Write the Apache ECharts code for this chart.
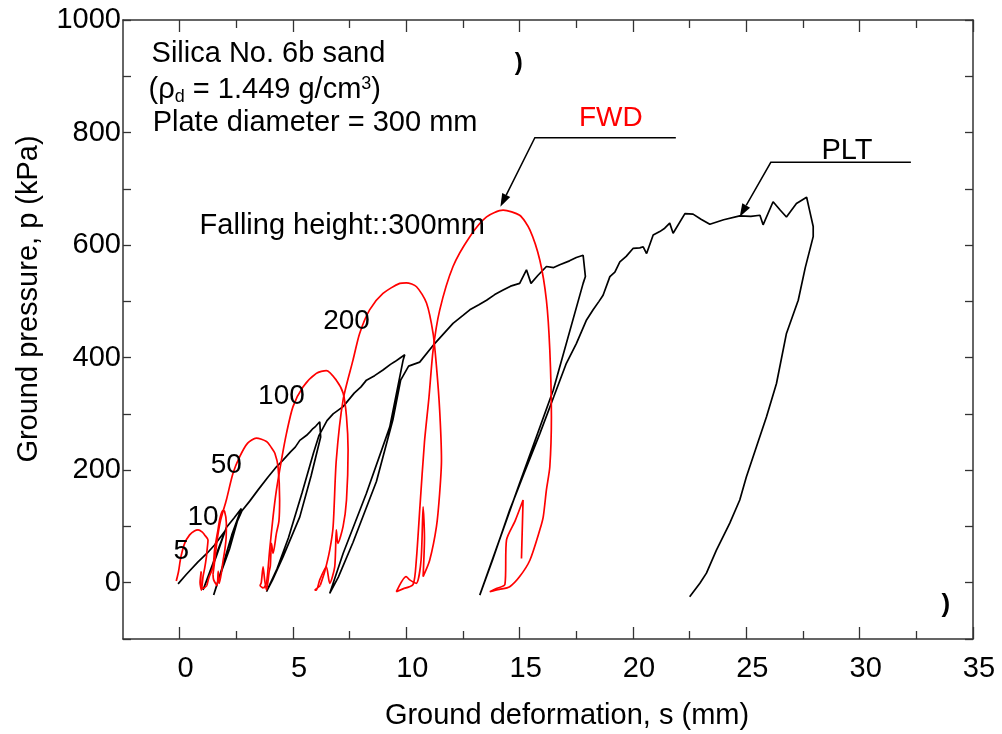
<!DOCTYPE html>
<html><head><meta charset="utf-8">
<script src="https://cdn.jsdelivr.net/npm/echarts@6/dist/echarts.min.js"></script>
<style>html,body{margin:0;padding:0;background:#fff}#c{width:1002px;height:734px}</style>
</head><body><div id="c"></div>
<script>
// ---------- tick values ----------
const xMajorTicks = [0, 5, 10, 15, 20, 25, 30, 35];
const xMinorTicks = [2.5, 7.5, 12.5, 17.5, 22.5, 27.5, 32.5];
const yLabelTicks = [0, 200, 400, 600, 800, 1000];

// ---------- PLT (plate loading test), s (mm), p (kPa) ----------
const pltCurve = [
  [-0.07,-2],[0.3,15],[0.81,37],[1.2,52],[1.54,67],[2.0,92],
  [1.03,-13],[1.6,45],[2.06,98],[2.4,115],[2.72,132],
  [2.3,85],[1.9,30],[1.5,-22],
  [1.8,15],[2.2,60],[2.55,110],[2.75,128],
  [3.09,145],[3.46,165],[3.9,188],[4.27,206],[4.56,218],[4.9,233],[5.1,241],[5.3,253],[5.6,262],[5.75,268],[5.88,274],[6.0,278],[6.18,286],
  [6.22,259],[5.8,190],[5.3,117],[4.56,46],[4.1,5],[3.83,-16],
  [4.3,25],[4.8,80],[5.4,160],[5.9,230],[6.15,262],[6.5,288],[6.77,300],[7.21,313],[7.7,337],[8.0,348],[8.24,360],[8.6,368],[8.97,378],[9.3,388],[9.5,393],[9.71,399],[9.93,405],
  [9.86,396],[9.27,277],[8.24,159],[7.21,52],[6.62,-19],
  [7.0,10],[7.65,72],[8.68,180],[9.41,290],[9.75,360],[10.1,385],[10.59,392],[11.25,425],[11.7,445],[12.06,461],[12.5,475],[12.8,485],[13.2,494],[13.54,502],[13.9,512],[14.27,520],[14.6,527],[15.0,532],[15.3,556],[15.5,532],[15.8,546],[16.18,562],[16.5,560],[16.77,565],[17.2,572],[17.5,578],[17.8,582],
  [17.9,544],[17.8,532],[16.48,342],[15.0,177],[13.24,-22],
  [13.8,40],[14.56,129],[15.2,195],[15.89,265],[16.5,330],[17.06,390],[17.5,425],[17.95,467],[18.24,485],[18.5,500],[18.68,511],[18.98,544],[19.2,552],[19.42,570],[19.7,580],[20.0,594],[20.3,595],[20.45,597],[20.6,585],[20.89,618],[21.18,624],[21.4,630],[21.62,639],[21.77,621],[22.29,656],[22.65,655],[23.0,646],[23.39,637],[24.0,645],[24.71,652],[25.2,651],[25.6,653],[25.74,636],[26.18,677],[26.5,662],[26.77,650],[27.21,674],[27.66,685],[27.8,660],[27.95,633],[27.95,615],
  [27.6,560],[27.29,502],[26.77,443],[26.33,354],[25.89,295],[25.45,242],[25.0,188],[24.71,147],[24.27,106],[23.68,58],[23.24,17],[22.95,-1],[22.5,-25]
];

// ---------- FWD (falling weight deflectometer), one loop per falling height ----------
const fwd5 = [
  [-0.15,3],[-0.05,20],[0.05,45],[0.22,70],[0.44,85],[0.65,92],[0.81,94],[1.0,90],[1.1,85],[1.25,76],
  [1.2,55],[1.18,46],[1.1,25],[1.03,11],[0.96,-13],[0.9,0],[0.95,20],[0.92,-5],[1.05,-10],[1.2,-5]
];
const fwd10 = [
  [1.2,-5],[1.3,10],[1.47,28],[1.54,58],[1.69,94],[1.78,115],[1.9,128],[1.98,127],[2.06,106],[2.05,80],
  [1.99,58],[1.9,35],[1.84,17],[1.75,-1],[1.7,20],[1.65,-5],[1.5,5],[1.47,15]
];
const fwd50 = [
  [1.47,15],[1.55,40],[1.65,75],[1.8,110],[2.06,147],[2.35,194],[2.65,224],[3.0,248],[3.38,257],[3.83,251],
  [4.05,240],[4.2,230],[4.34,206],[4.41,147],[4.38,110],[4.27,88],[4.12,52],[4.05,70],[4.0,30],[3.95,20],
  [3.83,-13],[3.75,5],[3.68,28],[3.6,0],[3.55,-5],[3.7,-10]
];
const fwd100 = [
  [3.7,-10],[3.83,-1],[3.97,58],[4.12,117],[4.27,165],[4.49,218],[4.71,265],[5.0,313],[5.44,348],[6.03,372],
  [6.47,377],[6.91,360],[7.21,337],[7.36,295],[7.43,236],[7.36,147],[7.21,100],[6.98,70],[6.91,94],[6.84,28],
  [6.62,-1],[6.47,28],[6.18,5],[6.03,-13],[5.96,-13],[6.2,-5]
];
const fwd200 = [
  [6.2,-5],[6.4,20],[6.62,58],[6.77,100],[6.91,218],[7.21,325],[7.65,396],[7.94,443],[8.38,485],[8.97,514],
  [9.71,532],[10.0,533],[10.45,526],[10.89,497],[11.18,443],[11.33,384],[11.47,307],[11.55,218],[11.47,159],
  [11.33,100],[11.03,40],[10.74,11],[10.8,80],[10.74,135],[10.65,40],[10.44,-1],[10.15,5],[9.99,11],[9.56,-16],[9.9,-10]
];
const fwd300 = [
  [9.9,-10],[10.3,-3],[10.44,40],[10.6,135],[10.8,250],[11.0,330],[11.18,413],[11.47,484],[12.06,562],[12.8,615],
  [13.54,650],[14.27,662],[15.0,653],[15.45,627],[15.89,573],[16.18,502],[16.33,413],[16.4,295],[16.33,206],
  [16.18,165],[16.04,117],[15.89,94],[15.45,40],[15.0,11],[14.56,-7],[14.1,-12],[13.68,-16],[14.0,-10],
  [14.35,-3],[14.42,76],[14.8,110],[15.15,147],[15.08,43]
];

// ---------- annotation anchors (data coordinates) ----------
const fwdLeader = [[21.89,790.8],[15.67,790.8],[14.15,668.2]];
const pltLeader = [[32.26,747.1],[26.08,747.1],[24.71,650.4]];
const dropLabels = [
  {text:'5',   at:[0.075,55]},
  {text:'10',  at:[1.03,117]},
  {text:'50',  at:[2.06,209]},
  {text:'100', at:[4.49,330.5]},
  {text:'200', at:[7.36,463.8]}
];

const FONT = '"Liberation Sans", Arial, Helvetica, sans-serif';
const chart = echarts.init(document.getElementById('c'), null, {renderer:'canvas'});

function xAxisDef(pos, values, len, withLine, withLabel) {
  return {
    type:'value', position:pos, min:-2.5, max:35, interval:2.5,
    axisLine:{show:withLine, onZero:false, lineStyle:{color:'#333', width:1.5}},
    axisTick:{show:true, inside:true, length:len, customValues:values, lineStyle:{color:'#333', width:1.3}},
    axisLabel:{show:withLabel, customValues:xMajorTicks, formatter:v => String(v), color:'#000', fontSize:29, fontFamily:FONT, margin:15, padding:[0,0,0,12]},
    splitLine:{show:false}
  };
}
function yAxisDef(pos, withLabel) {
  return {
    type:'value', position:pos, min:-100, max:1000, interval:100,
    axisLine:{show:true, onZero:false, lineStyle:{color:'#333', width:1.5}},
    axisTick:{show:true, inside:true, length:8, lineStyle:{color:'#333', width:1.3}},
    axisLabel:{show:withLabel, customValues:yLabelTicks, formatter:v => String(v), color:'#000', fontSize:29, fontFamily:FONT, margin:2},
    splitLine:{show:false}
  };
}

const redLine = {color:'#ff0000', width:1.7};
function fwdSeries(d){ return {type:'line', data:d, showSymbol:false, symbol:'none', smooth:0.25, lineStyle:redLine, z:4, xAxisIndex:0, yAxisIndex:0}; }

chart.setOption({
  animation:false,
  backgroundColor:'#fff',
  grid:{left:123, right:29, top:20, bottom:95, containLabel:false},
  xAxis:[
    xAxisDef('bottom', xMajorTicks, 12, true, true),
    xAxisDef('bottom', xMinorTicks, 8, false, false),
    xAxisDef('top', xMajorTicks, 12, true, false),
    xAxisDef('top', xMinorTicks, 8, false, false)
  ],
  yAxis:[ yAxisDef('left', true), yAxisDef('right', false) ],
  series:[
    {type:'line', data:pltCurve, showSymbol:false, symbol:'none', lineStyle:{color:'#000', width:1.7}, z:3, xAxisIndex:0, yAxisIndex:0},
    fwdSeries(fwd5), fwdSeries(fwd10), fwdSeries(fwd50), fwdSeries(fwd100), fwdSeries(fwd200), fwdSeries(fwd300)
  ]
});

function px(p){ return chart.convertToPixel({xAxisIndex:0, yAxisIndex:0}, p); }
function leader(pts){
  const P = pts.map(px);
  const a = P[1], b = P[2];
  const dx = b[0]-a[0], dy = b[1]-a[1], L = Math.hypot(dx,dy);
  const ux = dx/L, uy = dy/L, hl = 13, hw = 4.5;
  const base = [b[0]-ux*hl, b[1]-uy*hl];
  return [
    {type:'polyline', shape:{points:[P[0], a, base]}, style:{stroke:'#000', lineWidth:1.5, fill:null}, z:10},
    {type:'polygon', shape:{points:[b, [base[0]-uy*hw, base[1]+ux*hw], [base[0]+uy*hw, base[1]-ux*hw]]}, style:{fill:'#000'}, z:10}
  ];
}
function txt(x, y, text, opts){
  return {type:'text', x:x, y:y, z:12, style:Object.assign({text:text, fill:'#000', font:'29px '+FONT, textVerticalAlign:'middle'}, opts||{})};
}
const g = [];
const p1 = px([-1.24, 939.6]), p2 = px([-1.37, 875.6]), p3 = px([-1.19, 816.6]), p4 = px([0.88, 633.9]);
g.push(txt(p1[0], p1[1], 'Silica No. 6b sand'));
g.push({type:'text', x:p2[0], y:p2[1], z:12, style:{
  text:'(ρ{sub|d} = 1.449 g/cm{sup|3})', fill:'#000', font:'29px '+FONT, textVerticalAlign:'middle',
  rich:{ sub:{fontSize:18, fontFamily:FONT, padding:[14,0,0,0]}, sup:{fontSize:18, fontFamily:FONT, padding:[0,0,12,0]} }
}});
g.push(txt(p3[0], p3[1], 'Plate diameter = 300 mm'));
g.push(txt(p4[0], p4[1], 'Falling height::300mm'));
dropLabels.forEach(d => { const p = px(d.at); g.push(txt(p[0], p[1], d.text, {textAlign:'center', font:'28px '+FONT})); });
const pf = px([19.02, 825.8]), pp = px([29.44, 767.2]);
g.push(txt(pf[0], pf[1], 'FWD', {textAlign:'center', fill:'#ff0000', font:'28px '+FONT}));
g.push(txt(pp[0], pp[1], 'PLT', {textAlign:'center', font:'29px '+FONT}));
leader(fwdLeader).forEach(e => g.push(e));
leader(pltLeader).forEach(e => g.push(e));
const m1 = px([14.96, 923.6]), m2 = px([33.8, -39.6]);
g.push(txt(m1[0], m1[1], ')', {textAlign:'center', font:'bold 24px '+FONT}));
g.push(txt(m2[0], m2[1], ')', {textAlign:'center', font:'bold 26px '+FONT}));
g.push(txt(567, 716, 'Ground deformation, s (mm)', {textAlign:'center'}));
g.push({type:'text', x:29, y:299, rotation:Math.PI/2, z:12, style:{text:'Ground pressure, p (kPa)', fill:'#000', font:'29px '+FONT, textAlign:'center', textVerticalAlign:'middle'}});
chart.setOption({graphic:g});
</script>
</body></html>
